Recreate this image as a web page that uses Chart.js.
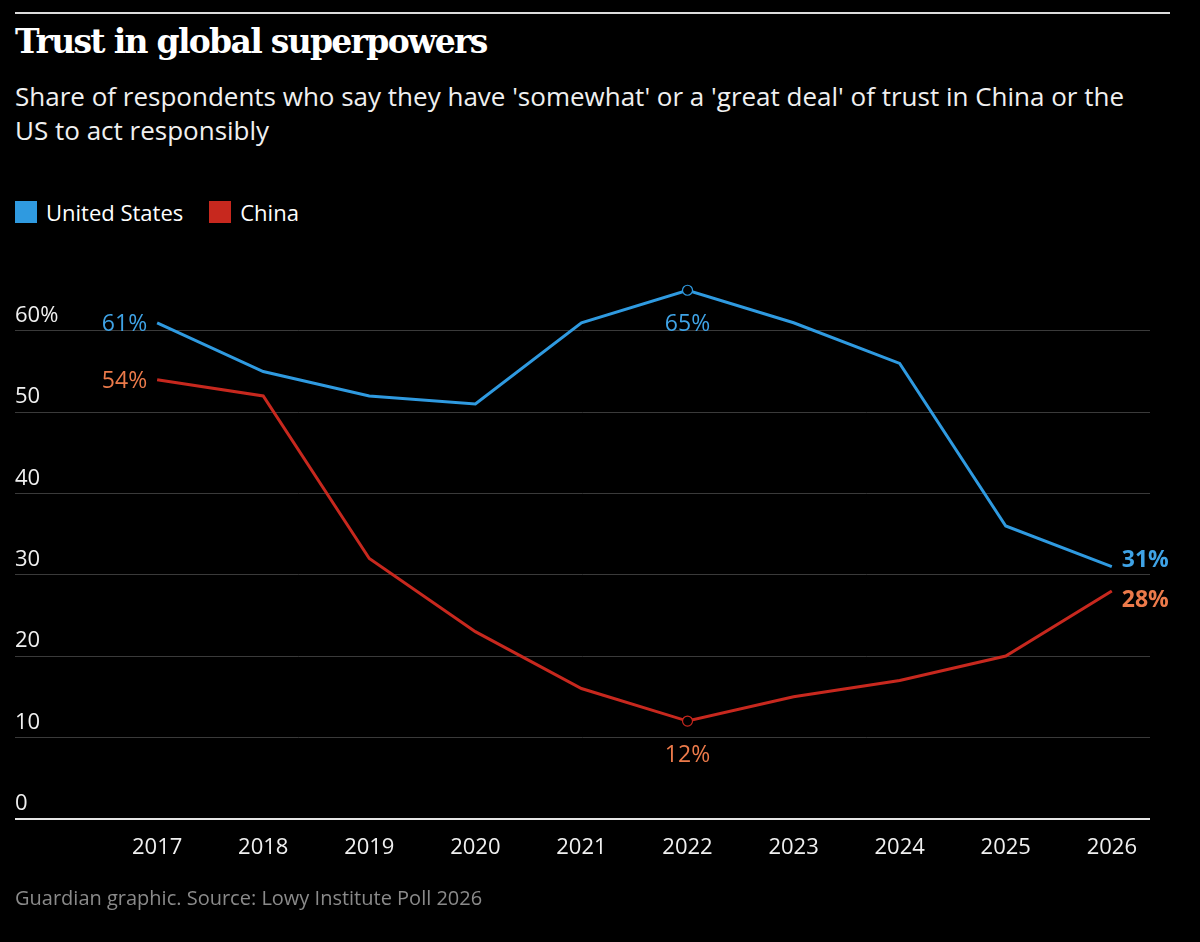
<!DOCTYPE html>
<html lang="en">
<head>
<meta charset="UTF-8">
<title>Trust in global superpowers</title>
<style>
    body { margin: 0; background: #000; color: #fff; font-family: "Open Sans", sans-serif; width: 1200px; height: 942px; overflow: hidden; position: relative; }
    .rule { position: absolute; left: 15px; top: 12px; width: 1155px; height: 2px; background: #dcdcdc; }
    h1 { position: absolute; left: 15px; top: 22px; margin: 0; font-family: "DejaVu Serif", serif; font-weight: bold; font-size: 33px; letter-spacing: -1.7px; }
    .sub { position: absolute; left: 15px; top: 79px; width: 1180px; font-size: 26px; line-height: 34px; color: #f0f0f0; }
    .legend { position: absolute; left: 15px; top: 197px; font-size: 22px; display: flex; gap: 26px; }
    .legend span { display: inline-flex; align-items: center; }
    .legend i { width: 22px; height: 22px; margin-right: 9px; display: inline-block; }
    .wrap { position: absolute; left: 0; top: 250px; width: 1200px; height: 640px; }
    .src { position: absolute; left: 15px; top: 884px; font-size: 20px; color: #8a8a8a; }
</style>
</head>
<body>
<div class="rule"></div>
<h1>Trust in global superpowers</h1>
<div class="sub">Share of respondents who say they have 'somewhat' or a 'great deal' of trust in China or the<br>US to act responsibly</div>
<div class="legend"><span><i style="background:#2f9ae0"></i>United States</span><span><i style="background:#c7281e"></i>China</span></div>
<div class="wrap"><canvas id="chart" width="1200" height="640"></canvas></div>
<div class="src">Guardian graphic. Source: Lowy Institute Poll 2026</div>

<script src="https://cdn.jsdelivr.net/npm/chart.js"></script>
<script>
    const years = [2017, 2018, 2019, 2020, 2021, 2022, 2023, 2024, 2025, 2026];
    const usValues = [61, 55, 52, 51, 61, 65, 61, 56, 36, 31];
    const chinaValues = [54, 52, 32, 23, 16, 12, 15, 17, 20, 28];
    const yTicks = [0, 10, 20, 30, 40, 50, 60];

    const usColor = '#2f9ae0';
    const chinaColor = '#c7281e';

    // labels: [series index, point index, text, dx, dy, align, bold, colour]
    const pointLabels = [
        [0, 0, '61%', -10, 2, 'right', false, '#3fa3e6'],
        [1, 0, '54%', -10, 2, 'right', false, '#ec7a4a'],
        [0, 5, '65%', 0, 34, 'center', false, '#3fa3e6'],
        [1, 5, '12%', 0, 34, 'center', false, '#ec7a4a'],
        [0, 9, '31%', 10, -6, 'left', true, '#3fa3e6'],
        [1, 9, '28%', 10, 9, 'left', true, '#ec7a4a'],
    ];

    const labelPlugin = {
        id: 'labels',
        afterDatasetsDraw(chart) {
            const ctx = chart.ctx;
            ctx.save();
            ctx.textBaseline = 'middle';
            pointLabels.forEach(([ds, i, text, dx, dy, align, bold, col]) => {
                const p = chart.getDatasetMeta(ds).data[i];
                ctx.font = (bold ? 'bold ' : '') + '23px "Open Sans", sans-serif';
                ctx.fillStyle = col;
                ctx.textAlign = align;
                ctx.fillText(text, p.x + dx, p.y + dy);
            });
            // hollow markers at 2022
            [[0, usColor], [1, chinaColor]].forEach(([ds, col]) => {
                const p = chart.getDatasetMeta(ds).data[5];
                ctx.beginPath();
                ctx.arc(p.x, p.y, 5, 0, Math.PI * 2);
                ctx.fillStyle = '#000';
                ctx.fill();
                ctx.strokeStyle = col;
                ctx.lineWidth = 1.2;
                ctx.stroke();
            });
            ctx.restore();
        }
    };

    new Chart(document.getElementById('chart'), {
        type: 'line',
        data: {
            datasets: [
                { label: 'United States', data: years.map((y, i) => ({ x: y, y: usValues[i] })), borderColor: usColor, borderWidth: 3, pointRadius: 0, tension: 0 },
                { label: 'China', data: years.map((y, i) => ({ x: y, y: chinaValues[i] })), borderColor: chinaColor, borderWidth: 3, pointRadius: 0, tension: 0 },
            ]
        },
        options: {
            responsive: false,
            animation: false,
            devicePixelRatio: 1,
            layout: { padding: { left: 15, right: 50, top: 24, bottom: 13 } },
            plugins: { legend: { display: false }, tooltip: { enabled: false } },
            scales: {
                x: {
                    type: 'linear', min: 2015.66, max: 2026.36,
                    afterBuildTicks: axis => { axis.ticks = years.map(v => ({ value: v })); },
                    grid: { display: false, drawTicks: false },
                    border: { display: false },
                    ticks: { color: '#f0f0f0', font: { size: 22, family: '"Open Sans", sans-serif' }, padding: 16, maxRotation: 0, autoSkip: false, callback: v => String(v) }
                },
                y: {
                    min: 0, max: 67,
                    afterBuildTicks: axis => { axis.ticks = yTicks.map(v => ({ value: v })); },
                    grid: { color: ctx => ctx.tick && ctx.tick.value === 0 ? '#e6e6e6' : '#3a3a3a', lineWidth: ctx => ctx.tick && ctx.tick.value === 0 ? 2 : 1, drawTicks: false },
                    border: { display: false },
                    ticks: { mirror: true, padding: 0, labelOffset: -15, color: '#f0f0f0', font: { size: 22, family: '"Open Sans", sans-serif' }, callback: v => v === 60 ? '60%' : String(v) }
                }
            }
        },
        plugins: [labelPlugin]
    });
</script>
</body>
</html>
